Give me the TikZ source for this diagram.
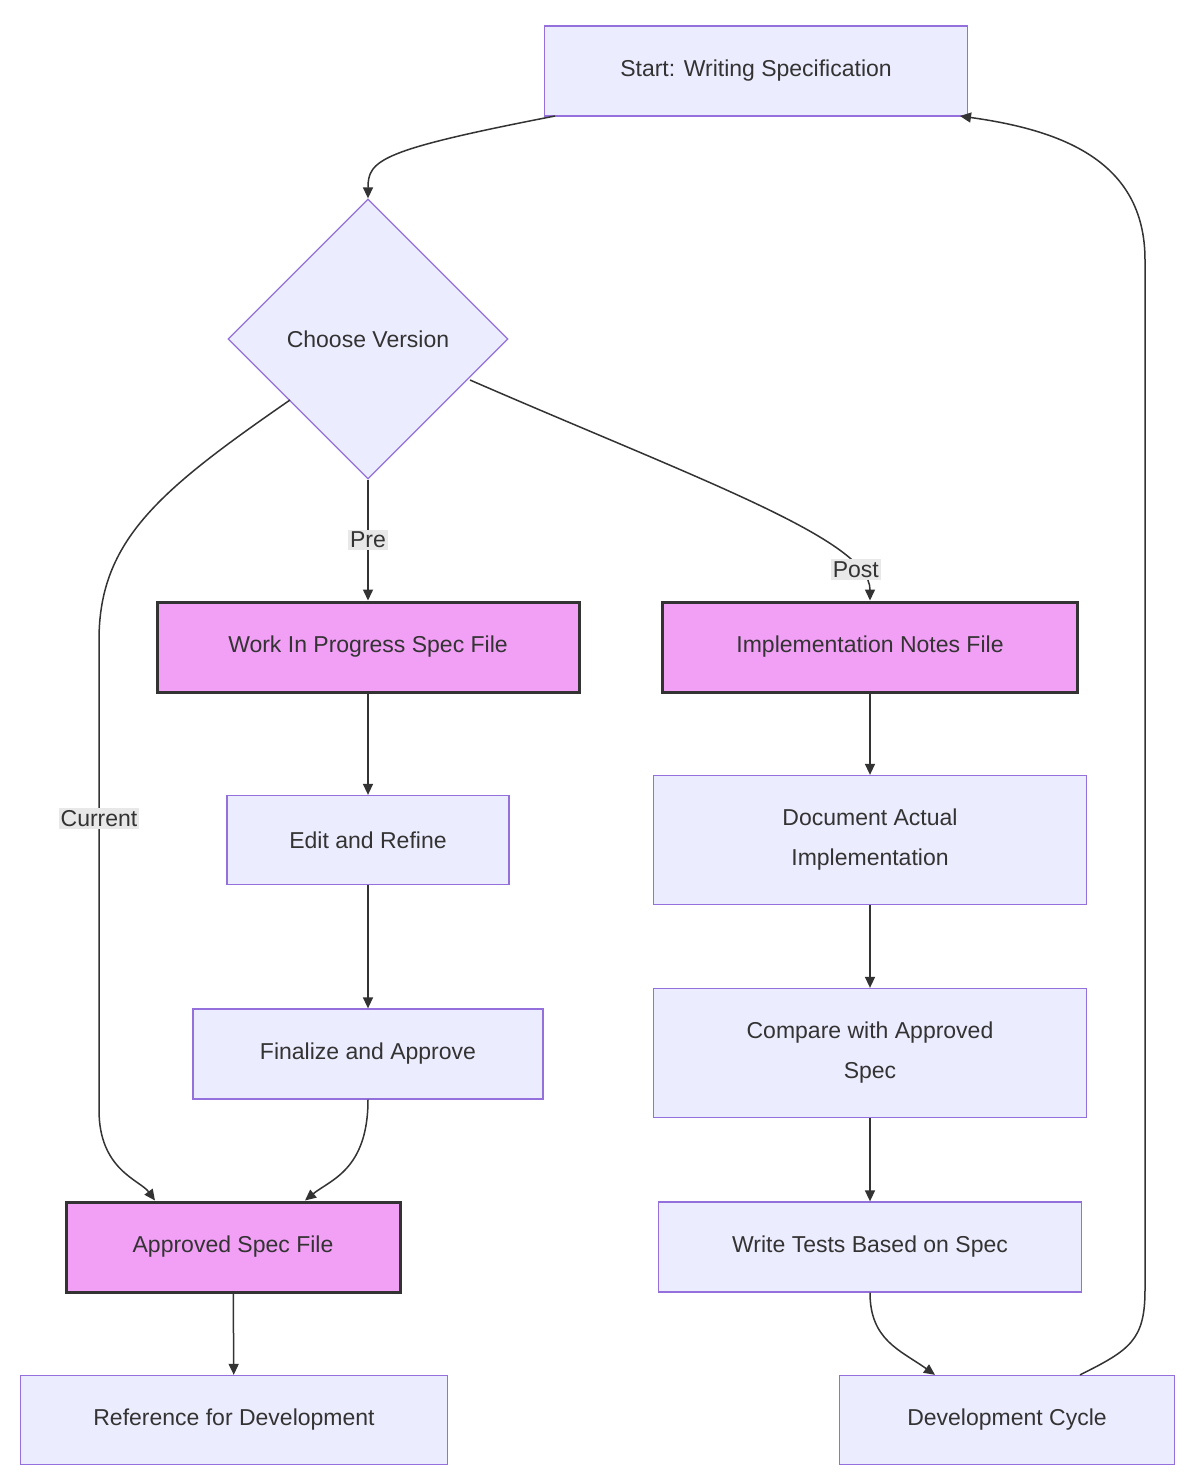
\documentclass[tikz,border=0pt]{standalone}
\usepackage{fontspec}
\setmainfont{Liberation Sans}
\usetikzlibrary{shapes.geometric,arrows.meta}
\definecolor{bfill}{HTML}{ECECFF}
\definecolor{bline}{HTML}{9370DB}
\definecolor{pfill}{HTML}{F1A0F5}
\definecolor{txt}{HTML}{333333}
\begin{document}
\begin{tikzpicture}[x=1pt,y=-1pt,
  box/.style={draw=bline,fill=bfill,line width=1.3pt,text=txt,font=\fontsize{23}{40}\selectfont,align=center,inner sep=0pt},
  pink/.style={box,draw=txt,fill=pfill,line width=3pt},
  arr/.style={draw=txt,line width=1.5pt,-{Triangle[length=11pt,width=10pt]}},
  lab/.style={fill=black!9,text=txt,font=\fontsize{23}{28}\selectfont,inner sep=2pt}]
\useasboundingbox[fill=white] (0,0) rectangle (1194,1484);
\node[box,minimum width=423,minimum height=90] (start) at (756,71) {Start: Writing Specification};
\node[box,diamond,minimum width=280,minimum height=280] (dia) at (368,339) {Choose Version};
\node[pink,minimum width=422,minimum height=90] (wip) at (368,647) {Work In Progress Spec File};
\node[pink,minimum width=415,minimum height=90] (impl) at (870,647) {Implementation Notes File};
\node[box,minimum width=282,minimum height=89] (edit) at (368,840) {Edit and Refine};
\node[box,minimum width=433,minimum height=129] (doc) at (870,840) {Document Actual\\Implementation};
\node[box,minimum width=350,minimum height=90] (fin) at (368,1054) {Finalize and Approve};
\node[box,minimum width=433,minimum height=129] (cmp) at (870,1053) {Compare with Approved\\Spec};
\node[pink,minimum width=334,minimum height=90] (appr) at (233,1247) {Approved Spec File};
\node[box,minimum width=423,minimum height=90] (tests) at (870,1247) {Write Tests Based on Spec};
\node[box,minimum width=427,minimum height=89] (ref) at (234,1420) {Reference for Development};
\node[box,minimum width=335,minimum height=89] (dev) at (1007,1420) {Development Cycle};
\coordinate (s1) at (555,116);
\coordinate (s2) at (960,116);
\coordinate (d1) at (290,400);
\coordinate (d2) at (470,380);
\draw[arr] (s1) .. controls (380,150) and (368,160) .. (dia.north);
\draw[arr] (dia.south) -- node[lab,pos=0.5]{Pre} (wip.north);
\draw[arr] (d2) .. controls (700,480) and (870,540) .. (impl.north) node[lab,pos=0.83]{Post};
\draw[arr] (d1) .. controls (160,490) and (99,540) .. (99,640) -- node[lab,pos=0.38]{Current} (99,1110) .. controls (99,1170) and (140,1180) .. ([xshift=-78pt]appr.north);
\draw[arr] (wip) -- (edit);
\draw[arr] (edit) -- (fin);
\draw[arr] (fin.south) .. controls (368,1170) and (330,1180) .. ([xshift=72pt]appr.north);
\draw[arr] (appr) -- (ref);
\draw[arr] (impl) -- (doc);
\draw[arr] (doc) -- (cmp);
\draw[arr] (cmp) -- (tests);
\draw[arr] (tests.south) .. controls (870,1340) and (900,1350) .. ([xshift=-72pt]dev.north);
\draw[arr] ([xshift=73pt]dev.north) .. controls (1130,1350) and (1145,1340) .. (1145,1290) -- (1145,260) .. controls (1145,160) and (1060,130) .. (s2);
\end{tikzpicture}
\end{document}
